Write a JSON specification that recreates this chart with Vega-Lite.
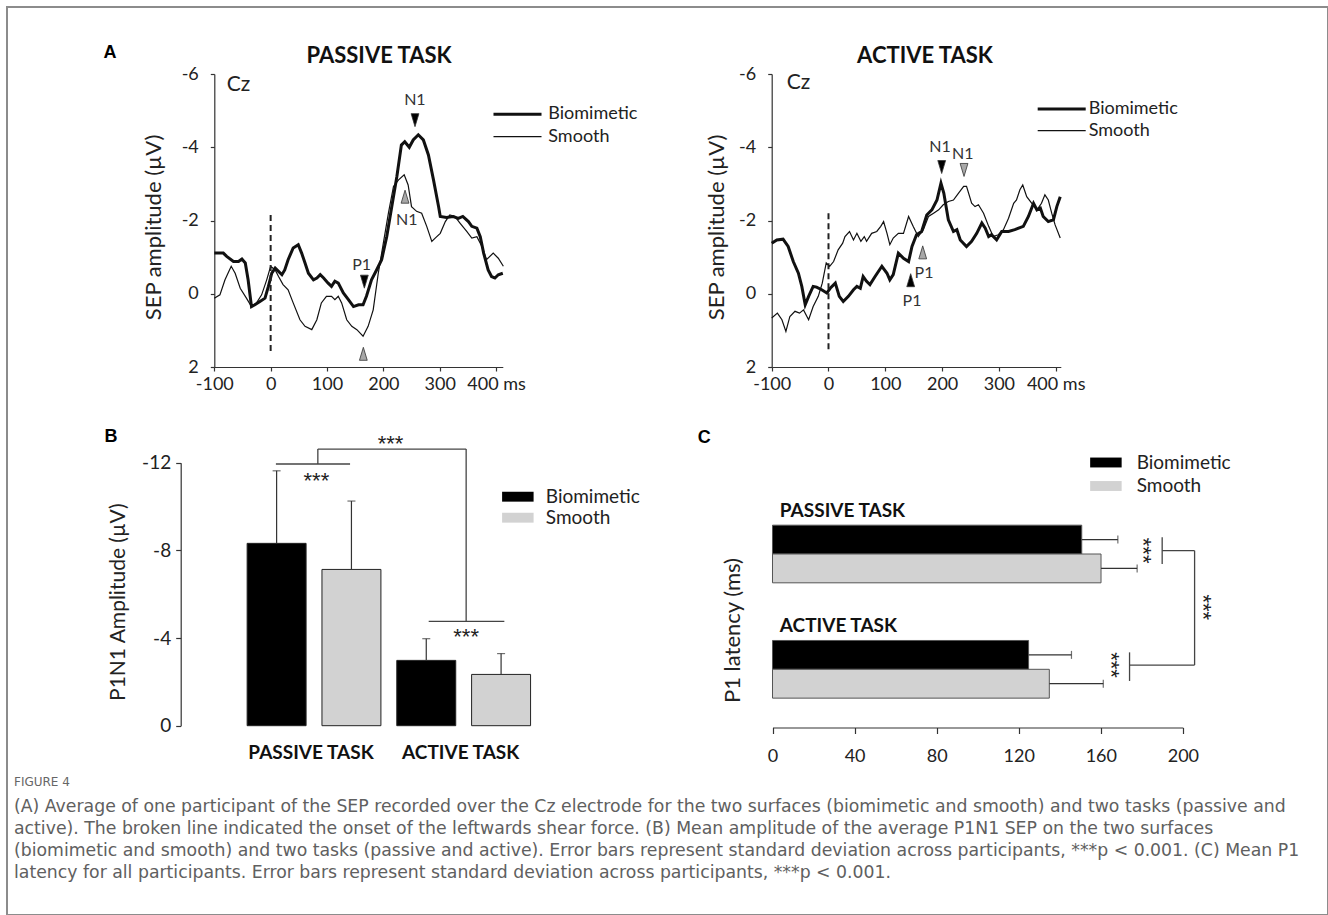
{
  "$schema": "https://vega.github.io/schema/vega-lite/v6.json",
  "width": 1321,
  "height": 908,
  "padding": {"left": 7, "top": 7, "right": 0, "bottom": 0},
  "autosize": {"type": "none"},
  "config": {
    "font": "Lato",
    "view": {"stroke": "#8c8c8c", "strokeWidth": 2},
    "axis": {"labelFontSize": 18, "labelColor": "#222", "domainColor": "#333", "tickColor": "#333", "domainWidth": 1.2, "tickWidth": 1.2, "grid": false, "titleFontWeight": "normal", "titleColor": "#222", "labelFont": "Lato", "titleFont": "Lato"},
    "legend": {"labelFont": "Lato", "labelColor": "#222", "padding": 0}
  },
  "title": {
    "text": "FIGURE 4",
    "subtitle": [
      "(A) Average of one participant of the SEP recorded over the Cz electrode for the two surfaces (biomimetic and smooth) and two tasks (passive and",
      "active). The broken line indicated the onset of the leftwards shear force. (B) Mean amplitude of the average P1N1 SEP on the two surfaces",
      "(biomimetic and smooth) and two tasks (passive and active). Error bars represent standard deviation across participants, ***p < 0.001. (C) Mean P1",
      "latency for all participants. Error bars represent standard deviation across participants, ***p < 0.001."
    ],
    "orient": "bottom",
    "anchor": "start",
    "frame": "group",
    "offset": -138,
    "dx": 7,
    "font": "DejaVu Sans",
    "fontSize": 12,
    "fontWeight": "normal",
    "color": "#666",
    "subtitleFont": "DejaVu Sans",
    "subtitleFontSize": 17.3,
    "subtitleColor": "#606060",
    "subtitleLineHeight": 22,
    "subtitlePadding": 9
  },
  "resolve": {
    "scale": {"x": "independent", "y": "independent", "color": "independent", "strokeWidth": "independent", "shape": "independent", "xOffset": "independent", "yOffset": "independent"},
    "axis": {"x": "independent", "y": "independent"},
    "legend": {"color": "independent", "strokeWidth": "independent", "shape": "independent"}
  },
  "datasets": {
    "erp": [
      {"task":"passive","surface":"Biomimetic","t":-100,"amp":-1.11},{"task":"passive","surface":"Biomimetic","t":-84,"amp":-1.11},{"task":"passive","surface":"Biomimetic","t":-78,"amp":-1.02},{"task":"passive","surface":"Biomimetic","t":-66,"amp":-0.88},{"task":"passive","surface":"Biomimetic","t":-57,"amp":-0.88},{"task":"passive","surface":"Biomimetic","t":-51,"amp":-0.95},{"task":"passive","surface":"Biomimetic","t":-45,"amp":-0.84},{"task":"passive","surface":"Biomimetic","t":-40,"amp":-0.38},{"task":"passive","surface":"Biomimetic","t":-34,"amp":0.35},{"task":"passive","surface":"Biomimetic","t":-28,"amp":0.3},{"task":"passive","surface":"Biomimetic","t":-19,"amp":0.21},{"task":"passive","surface":"Biomimetic","t":-10,"amp":0.12},{"task":"passive","surface":"Biomimetic","t":-4,"amp":-0.2},{"task":"passive","surface":"Biomimetic","t":2,"amp":-0.56},{"task":"passive","surface":"Biomimetic","t":8,"amp":-0.7},{"task":"passive","surface":"Biomimetic","t":14,"amp":-0.61},{"task":"passive","surface":"Biomimetic","t":20,"amp":-0.52},{"task":"passive","surface":"Biomimetic","t":25,"amp":-0.65},{"task":"passive","surface":"Biomimetic","t":31,"amp":-0.93},{"task":"passive","surface":"Biomimetic","t":40,"amp":-1.25},{"task":"passive","surface":"Biomimetic","t":49,"amp":-1.34},{"task":"passive","surface":"Biomimetic","t":55,"amp":-1.11},{"task":"passive","surface":"Biomimetic","t":61,"amp":-0.84},{"task":"passive","surface":"Biomimetic","t":67,"amp":-0.56},{"task":"passive","surface":"Biomimetic","t":76,"amp":-0.38},{"task":"passive","surface":"Biomimetic","t":82,"amp":-0.43},{"task":"passive","surface":"Biomimetic","t":88,"amp":-0.52},{"task":"passive","surface":"Biomimetic","t":94,"amp":-0.43},{"task":"passive","surface":"Biomimetic","t":102,"amp":-0.29},{"task":"passive","surface":"Biomimetic","t":108,"amp":-0.2},{"task":"passive","surface":"Biomimetic","t":114,"amp":-0.34},{"task":"passive","surface":"Biomimetic","t":120,"amp":-0.29},{"task":"passive","surface":"Biomimetic","t":129,"amp":-0.02},{"task":"passive","surface":"Biomimetic","t":138,"amp":0.16},{"task":"passive","surface":"Biomimetic","t":147,"amp":0.35},{"task":"passive","surface":"Biomimetic","t":156,"amp":0.3},{"task":"passive","surface":"Biomimetic","t":164,"amp":0.3},{"task":"passive","surface":"Biomimetic","t":170,"amp":0.07},{"task":"passive","surface":"Biomimetic","t":179,"amp":-0.38},{"task":"passive","surface":"Biomimetic","t":188,"amp":-0.65},{"task":"passive","surface":"Biomimetic","t":197,"amp":-0.93},{"task":"passive","surface":"Biomimetic","t":206,"amp":-1.56},{"task":"passive","surface":"Biomimetic","t":215,"amp":-2.38},{"task":"passive","surface":"Biomimetic","t":224,"amp":-3.2},{"task":"passive","surface":"Biomimetic","t":232,"amp":-4.06},{"task":"passive","surface":"Biomimetic","t":238,"amp":-4.15},{"task":"passive","surface":"Biomimetic","t":246,"amp":-4.0},{"task":"passive","surface":"Biomimetic","t":253,"amp":-4.2},{"task":"passive","surface":"Biomimetic","t":262,"amp":-4.34},{"task":"passive","surface":"Biomimetic","t":271,"amp":-4.2},{"task":"passive","surface":"Biomimetic","t":280,"amp":-3.79},{"task":"passive","surface":"Biomimetic","t":289,"amp":-3.11},{"task":"passive","surface":"Biomimetic","t":298,"amp":-2.38},{"task":"passive","surface":"Biomimetic","t":301,"amp":-2.11},{"task":"passive","surface":"Biomimetic","t":312,"amp":-2.08},{"task":"passive","surface":"Biomimetic","t":324,"amp":-2.11},{"task":"passive","surface":"Biomimetic","t":333,"amp":-2.06},{"task":"passive","surface":"Biomimetic","t":341,"amp":-2.11},{"task":"passive","surface":"Biomimetic","t":351,"amp":-1.97},{"task":"passive","surface":"Biomimetic","t":357,"amp":-1.84},{"task":"passive","surface":"Biomimetic","t":366,"amp":-1.79},{"task":"passive","surface":"Biomimetic","t":372,"amp":-1.56},{"task":"passive","surface":"Biomimetic","t":378,"amp":-1.11},{"task":"passive","surface":"Biomimetic","t":386,"amp":-0.65},{"task":"passive","surface":"Biomimetic","t":392,"amp":-0.47},{"task":"passive","surface":"Biomimetic","t":398,"amp":-0.43},{"task":"passive","surface":"Biomimetic","t":404,"amp":-0.52},{"task":"passive","surface":"Biomimetic","t":412,"amp":-0.56},
      {"task":"passive","surface":"Smooth","t":-100,"amp":0.12},{"task":"passive","surface":"Smooth","t":-90,"amp":0.03},{"task":"passive","surface":"Smooth","t":-81,"amp":-0.38},{"task":"passive","surface":"Smooth","t":-70,"amp":-0.75},{"task":"passive","surface":"Smooth","t":-63,"amp":-0.56},{"task":"passive","surface":"Smooth","t":-54,"amp":-0.15},{"task":"passive","surface":"Smooth","t":-43,"amp":0.12},{"task":"passive","surface":"Smooth","t":-34,"amp":0.35},{"task":"passive","surface":"Smooth","t":-25,"amp":0.25},{"task":"passive","surface":"Smooth","t":-16,"amp":0.03},{"task":"passive","surface":"Smooth","t":-7,"amp":-0.38},{"task":"passive","surface":"Smooth","t":0,"amp":-0.75},{"task":"passive","surface":"Smooth","t":8,"amp":-0.65},{"task":"passive","surface":"Smooth","t":14,"amp":-0.47},{"task":"passive","surface":"Smooth","t":22,"amp":-0.25},{"task":"passive","surface":"Smooth","t":31,"amp":-0.11},{"task":"passive","surface":"Smooth","t":40,"amp":0.25},{"task":"passive","surface":"Smooth","t":52,"amp":0.71},{"task":"passive","surface":"Smooth","t":61,"amp":0.89},{"task":"passive","surface":"Smooth","t":73,"amp":0.98},{"task":"passive","surface":"Smooth","t":82,"amp":0.71},{"task":"passive","surface":"Smooth","t":90,"amp":0.25},{"task":"passive","surface":"Smooth","t":99,"amp":0.07},{"task":"passive","surface":"Smooth","t":108,"amp":0.07},{"task":"passive","surface":"Smooth","t":114,"amp":0.16},{"task":"passive","surface":"Smooth","t":120,"amp":0.07},{"task":"passive","surface":"Smooth","t":126,"amp":0.25},{"task":"passive","surface":"Smooth","t":135,"amp":0.71},{"task":"passive","surface":"Smooth","t":144,"amp":0.89},{"task":"passive","surface":"Smooth","t":153,"amp":0.98},{"task":"passive","surface":"Smooth","t":164,"amp":1.16},{"task":"passive","surface":"Smooth","t":173,"amp":0.89},{"task":"passive","surface":"Smooth","t":182,"amp":0.44},{"task":"passive","surface":"Smooth","t":191,"amp":-0.56},{"task":"passive","surface":"Smooth","t":200,"amp":-1.38},{"task":"passive","surface":"Smooth","t":209,"amp":-2.2},{"task":"passive","surface":"Smooth","t":218,"amp":-2.93},{"task":"passive","surface":"Smooth","t":227,"amp":-3.11},{"task":"passive","surface":"Smooth","t":237,"amp":-3.25},{"task":"passive","surface":"Smooth","t":244,"amp":-2.97},{"task":"passive","surface":"Smooth","t":250,"amp":-2.38},{"task":"passive","surface":"Smooth","t":259,"amp":-2.25},{"task":"passive","surface":"Smooth","t":268,"amp":-2.2},{"task":"passive","surface":"Smooth","t":277,"amp":-1.84},{"task":"passive","surface":"Smooth","t":286,"amp":-1.43},{"task":"passive","surface":"Smooth","t":292,"amp":-1.52},{"task":"passive","surface":"Smooth","t":301,"amp":-1.65},{"task":"passive","surface":"Smooth","t":310,"amp":-1.97},{"task":"passive","surface":"Smooth","t":318,"amp":-2.15},{"task":"passive","surface":"Smooth","t":327,"amp":-2.11},{"task":"passive","surface":"Smooth","t":336,"amp":-1.93},{"task":"passive","surface":"Smooth","t":348,"amp":-1.7},{"task":"passive","surface":"Smooth","t":357,"amp":-1.52},{"task":"passive","surface":"Smooth","t":366,"amp":-1.56},{"task":"passive","surface":"Smooth","t":375,"amp":-1.29},{"task":"passive","surface":"Smooth","t":383,"amp":-0.93},{"task":"passive","surface":"Smooth","t":395,"amp":-1.11},{"task":"passive","surface":"Smooth","t":404,"amp":-0.97},{"task":"passive","surface":"Smooth","t":413,"amp":-0.75},
      {"task":"active","surface":"Biomimetic","t":-100,"amp":-1.38},{"task":"active","surface":"Biomimetic","t":-91,"amp":-1.47},{"task":"active","surface":"Biomimetic","t":-80,"amp":-1.49},{"task":"active","surface":"Biomimetic","t":-71,"amp":-1.29},{"task":"active","surface":"Biomimetic","t":-62,"amp":-0.88},{"task":"active","surface":"Biomimetic","t":-53,"amp":-0.56},{"task":"active","surface":"Biomimetic","t":-47,"amp":-0.2},{"task":"active","surface":"Biomimetic","t":-41,"amp":0.3},{"task":"active","surface":"Biomimetic","t":-35,"amp":0.07},{"task":"active","surface":"Biomimetic","t":-27,"amp":-0.2},{"task":"active","surface":"Biomimetic","t":-21,"amp":-0.18},{"task":"active","surface":"Biomimetic","t":-12,"amp":-0.11},{"task":"active","surface":"Biomimetic","t":-3,"amp":-0.02},{"task":"active","surface":"Biomimetic","t":3,"amp":-0.15},{"task":"active","surface":"Biomimetic","t":12,"amp":-0.29},{"task":"active","surface":"Biomimetic","t":19,"amp":0.07},{"task":"active","surface":"Biomimetic","t":26,"amp":0.21},{"task":"active","surface":"Biomimetic","t":35,"amp":0.07},{"task":"active","surface":"Biomimetic","t":44,"amp":-0.11},{"task":"active","surface":"Biomimetic","t":50,"amp":-0.2},{"task":"active","surface":"Biomimetic","t":56,"amp":-0.15},{"task":"active","surface":"Biomimetic","t":61,"amp":-0.47},{"task":"active","surface":"Biomimetic","t":67,"amp":-0.34},{"task":"active","surface":"Biomimetic","t":73,"amp":-0.25},{"task":"active","surface":"Biomimetic","t":82,"amp":-0.47},{"task":"active","surface":"Biomimetic","t":94,"amp":-0.75},{"task":"active","surface":"Biomimetic","t":103,"amp":-0.56},{"task":"active","surface":"Biomimetic","t":108,"amp":-0.38},{"task":"active","surface":"Biomimetic","t":114,"amp":-0.52},{"task":"active","surface":"Biomimetic","t":123,"amp":-1.11},{"task":"active","surface":"Biomimetic","t":132,"amp":-0.97},{"task":"active","surface":"Biomimetic","t":141,"amp":-0.88},{"task":"active","surface":"Biomimetic","t":147,"amp":-1.29},{"task":"active","surface":"Biomimetic","t":155,"amp":-1.61},{"task":"active","surface":"Biomimetic","t":164,"amp":-1.7},{"task":"active","surface":"Biomimetic","t":173,"amp":-2.15},{"task":"active","surface":"Biomimetic","t":182,"amp":-2.29},{"task":"active","surface":"Biomimetic","t":191,"amp":-2.56},{"task":"active","surface":"Biomimetic","t":198,"amp":-3.02},{"task":"active","surface":"Biomimetic","t":203,"amp":-2.75},{"task":"active","surface":"Biomimetic","t":211,"amp":-2.02},{"task":"active","surface":"Biomimetic","t":220,"amp":-1.7},{"task":"active","surface":"Biomimetic","t":226,"amp":-1.75},{"task":"active","surface":"Biomimetic","t":232,"amp":-1.47},{"task":"active","surface":"Biomimetic","t":243,"amp":-1.29},{"task":"active","surface":"Biomimetic","t":252,"amp":-1.43},{"task":"active","surface":"Biomimetic","t":261,"amp":-1.65},{"task":"active","surface":"Biomimetic","t":270,"amp":-1.93},{"task":"active","surface":"Biomimetic","t":276,"amp":-1.79},{"task":"active","surface":"Biomimetic","t":282,"amp":-1.56},{"task":"active","surface":"Biomimetic","t":287,"amp":-1.61},{"task":"active","surface":"Biomimetic","t":296,"amp":-1.47},{"task":"active","surface":"Biomimetic","t":305,"amp":-1.7},{"task":"active","surface":"Biomimetic","t":317,"amp":-1.7},{"task":"active","surface":"Biomimetic","t":328,"amp":-1.75},{"task":"active","surface":"Biomimetic","t":343,"amp":-1.84},{"task":"active","surface":"Biomimetic","t":352,"amp":-2.11},{"task":"active","surface":"Biomimetic","t":361,"amp":-2.47},{"task":"active","surface":"Biomimetic","t":367,"amp":-2.29},{"task":"active","surface":"Biomimetic","t":373,"amp":-2.34},{"task":"active","surface":"Biomimetic","t":378,"amp":-2.11},{"task":"active","surface":"Biomimetic","t":387,"amp":-1.97},{"task":"active","surface":"Biomimetic","t":396,"amp":-2.02},{"task":"active","surface":"Biomimetic","t":402,"amp":-2.38},{"task":"active","surface":"Biomimetic","t":408,"amp":-2.65},
      {"task":"active","surface":"Smooth","t":-100,"amp":0.66},{"task":"active","surface":"Smooth","t":-90,"amp":0.53},{"task":"active","surface":"Smooth","t":-82,"amp":0.71},{"task":"active","surface":"Smooth","t":-75,"amp":1.03},{"task":"active","surface":"Smooth","t":-68,"amp":0.62},{"task":"active","surface":"Smooth","t":-59,"amp":0.48},{"task":"active","surface":"Smooth","t":-51,"amp":0.53},{"task":"active","surface":"Smooth","t":-44,"amp":0.44},{"task":"active","surface":"Smooth","t":-35,"amp":0.71},{"task":"active","surface":"Smooth","t":-27,"amp":0.35},{"task":"active","surface":"Smooth","t":-18,"amp":0.07},{"task":"active","surface":"Smooth","t":-11,"amp":-0.29},{"task":"active","surface":"Smooth","t":-4,"amp":-0.84},{"task":"active","surface":"Smooth","t":2,"amp":-0.75},{"task":"active","surface":"Smooth","t":9,"amp":-0.88},{"task":"active","surface":"Smooth","t":17,"amp":-1.2},{"task":"active","surface":"Smooth","t":25,"amp":-1.38},{"task":"active","surface":"Smooth","t":29,"amp":-1.56},{"task":"active","surface":"Smooth","t":37,"amp":-1.7},{"task":"active","surface":"Smooth","t":44,"amp":-1.47},{"task":"active","surface":"Smooth","t":50,"amp":-1.65},{"task":"active","surface":"Smooth","t":57,"amp":-1.43},{"task":"active","surface":"Smooth","t":63,"amp":-1.56},{"task":"active","surface":"Smooth","t":67,"amp":-1.43},{"task":"active","surface":"Smooth","t":76,"amp":-1.65},{"task":"active","surface":"Smooth","t":85,"amp":-1.7},{"task":"active","surface":"Smooth","t":92,"amp":-1.84},{"task":"active","surface":"Smooth","t":97,"amp":-1.97},{"task":"active","surface":"Smooth","t":103,"amp":-1.65},{"task":"active","surface":"Smooth","t":108,"amp":-1.34},{"task":"active","surface":"Smooth","t":114,"amp":-1.52},{"task":"active","surface":"Smooth","t":123,"amp":-1.65},{"task":"active","surface":"Smooth","t":132,"amp":-1.65},{"task":"active","surface":"Smooth","t":141,"amp":-2.11},{"task":"active","surface":"Smooth","t":149,"amp":-1.84},{"task":"active","surface":"Smooth","t":158,"amp":-1.56},{"task":"active","surface":"Smooth","t":167,"amp":-1.75},{"task":"active","surface":"Smooth","t":176,"amp":-2.11},{"task":"active","surface":"Smooth","t":185,"amp":-2.2},{"task":"active","surface":"Smooth","t":194,"amp":-2.29},{"task":"active","surface":"Smooth","t":202,"amp":-2.43},{"task":"active","surface":"Smooth","t":211,"amp":-2.52},{"task":"active","surface":"Smooth","t":220,"amp":-2.56},{"task":"active","surface":"Smooth","t":229,"amp":-2.75},{"task":"active","surface":"Smooth","t":238,"amp":-2.93},{"task":"active","surface":"Smooth","t":243,"amp":-2.93},{"task":"active","surface":"Smooth","t":252,"amp":-2.47},{"task":"active","surface":"Smooth","t":258,"amp":-2.38},{"task":"active","surface":"Smooth","t":264,"amp":-2.43},{"task":"active","surface":"Smooth","t":273,"amp":-2.2},{"task":"active","surface":"Smooth","t":282,"amp":-1.84},{"task":"active","surface":"Smooth","t":290,"amp":-1.56},{"task":"active","surface":"Smooth","t":299,"amp":-1.61},{"task":"active","surface":"Smooth","t":308,"amp":-1.75},{"task":"active","surface":"Smooth","t":317,"amp":-2.06},{"task":"active","surface":"Smooth","t":326,"amp":-2.47},{"task":"active","surface":"Smooth","t":331,"amp":-2.56},{"task":"active","surface":"Smooth","t":337,"amp":-2.84},{"task":"active","surface":"Smooth","t":342,"amp":-2.97},{"task":"active","surface":"Smooth","t":349,"amp":-2.65},{"task":"active","surface":"Smooth","t":358,"amp":-2.47},{"task":"active","surface":"Smooth","t":367,"amp":-2.29},{"task":"active","surface":"Smooth","t":375,"amp":-2.47},{"task":"active","surface":"Smooth","t":381,"amp":-2.7},{"task":"active","surface":"Smooth","t":387,"amp":-2.56},{"task":"active","surface":"Smooth","t":393,"amp":-2.2},{"task":"active","surface":"Smooth","t":399,"amp":-1.88},{"task":"active","surface":"Smooth","t":408,"amp":-1.52}
    ],
    "peaks": [
      {"task":"passive","surface":"Biomimetic","dir":"down","t":256.2,"amp":-4.74},
      {"task":"passive","surface":"Smooth","dir":"up","t":238.5,"amp":-2.65},
      {"task":"passive","surface":"Biomimetic","dir":"down","t":166.3,"amp":-0.33},
      {"task":"passive","surface":"Smooth","dir":"up","t":164.5,"amp":1.64},
      {"task":"active","surface":"Biomimetic","dir":"down","t":199.3,"amp":-3.46},
      {"task":"active","surface":"Smooth","dir":"down","t":238.6,"amp":-3.38},
      {"task":"active","surface":"Smooth","dir":"up","t":165.9,"amp":-1.13},
      {"task":"active","surface":"Biomimetic","dir":"up","t":144.7,"amp":-0.37}
    ],
    "peakLabels": [
      {"task":"passive","t":256,"amp":-5.29,"label":"N1"},
      {"task":"passive","t":241.4,"amp":-2.01,"label":"N1"},
      {"task":"passive","t":161.5,"amp":-0.79,"label":"P1"},
      {"task":"active","t":196.4,"amp":-4.0,"label":"N1"},
      {"task":"active","t":236.3,"amp":-3.82,"label":"N1"},
      {"task":"active","t":168.2,"amp":-0.56,"label":"P1"},
      {"task":"active","t":147,"amp":0.21,"label":"P1"}
    ],
    "amp": [
      {"task":"PASSIVE TASK","surface":"Biomimetic","mean":-8.32,"end":-11.63},
      {"task":"PASSIVE TASK","surface":"Smooth","mean":-7.13,"end":-10.25},
      {"task":"ACTIVE TASK","surface":"Biomimetic","mean":-2.98,"end":-3.97},
      {"task":"ACTIVE TASK","surface":"Smooth","mean":-2.34,"end":-3.29}
    ],
    "lat": [
      {"task":"PASSIVE TASK","surface":"Biomimetic","mean":150.7,"end":168.3},
      {"task":"PASSIVE TASK","surface":"Smooth","mean":160.1,"end":177.7},
      {"task":"ACTIVE TASK","surface":"Biomimetic","mean":124.8,"end":145.7},
      {"task":"ACTIVE TASK","surface":"Smooth","mean":134.9,"end":161.2}
    ]
  },
  "layer": [
    {
      "data": {"name": "erp"},
      "transform": [{"filter": "datum.task == 'passive'"}],
      "mark": {"type": "line", "color": "#111"},
      "encoding": {
        "x": {"field": "t", "type": "quantitative", "scale": {"type": "linear", "domain": [-100, 412], "range": [207.3, 495.8], "nice": false, "zero": false},
          "axis": {"orient": "bottom", "offset": -548, "values": [-100, 0, 100, 200, 300, 400], "labelExpr": "datum.value == 400 ? '\u00a0\u00a0\u00a0\u00a0\u00a0\u00a0400 ms' : toString(datum.value)", "title": null, "tickSize": 4, "labelPadding": 4, "labelFlush": false}},
        "y": {"field": "amp", "type": "quantitative", "scale": {"type": "linear", "domain": [2, -6], "range": [360, 67], "nice": false, "zero": false},
          "axis": {"orient": "left", "offset": -207.3, "values": [2, 0, -2, -4, -6], "labelExpr": "toString(datum.value)", "tickSize": 4, "labelPadding": 12, "title": "SEP amplitude (µV)", "titleFontSize": 22, "titleX": -61, "titleY": 220, "titleAngle": -90, "titleBaseline": "middle", "titleAlign": "center"}},
        "strokeWidth": {"field": "surface", "type": "ordinal", "scale": {"domain": ["Biomimetic", "Smooth"], "range": [3, 1.2]},
          "legend": {"orient": "none", "direction": "vertical", "legendX": 501.5, "legendY": 98.3, "title": null, "symbolType": "M-3.43,0H3.43", "symbolSize": 196, "symbolStrokeColor": "#111", "symbolFillColor": "transparent", "labelFontSize": 18, "labelOffset": 21.8, "rowPadding": 4.4}}
      }
    },
    {
      "data": {"values": [{"t": 0, "a1": -2.15, "a2": 1.62}]},
      "mark": {"type": "rule", "strokeDash": [6, 4], "strokeWidth": 2, "color": "#222"},
      "encoding": {
        "x": {"field": "t", "type": "quantitative", "scale": {"type": "linear", "domain": [-100, 412], "range": [207.3, 495.8], "nice": false, "zero": false}, "axis": null},
        "y": {"field": "a1", "type": "quantitative", "scale": {"type": "linear", "domain": [2, -6], "range": [360, 67], "nice": false, "zero": false}, "axis": null},
        "y2": {"field": "a2"}
      }
    },
    {
      "data": {"name": "peaks"},
      "transform": [{"filter": "datum.task == 'passive'"}],
      "mark": {"type": "point", "filled": true, "size": 169, "stroke": "#333", "strokeWidth": 0.8, "opacity": 1},
      "encoding": {
        "x": {"field": "t", "type": "quantitative", "scale": {"type": "linear", "domain": [-100, 412], "range": [207.3, 495.8], "nice": false, "zero": false}, "axis": null},
        "y": {"field": "amp", "type": "quantitative", "scale": {"type": "linear", "domain": [2, -6], "range": [360, 67], "nice": false, "zero": false}, "axis": null},
        "shape": {"field": "dir", "type": "nominal", "scale": {"domain": ["down", "up"], "range": ["M-0.6,-1L0.6,-1L0,1Z", "M-0.6,1L0.6,1L0,-1Z"]}, "legend": null},
        "color": {"field": "surface", "type": "nominal", "scale": {"domain": ["Biomimetic", "Smooth"], "range": ["#000000", "#a8a8a8"]}, "legend": null}
      }
    },
    {
      "data": {"name": "peakLabels"},
      "transform": [{"filter": "datum.task == 'passive'"}],
      "mark": {"type": "text", "fontSize": 16, "color": "#333", "baseline": "middle", "align": "center"},
      "encoding": {
        "x": {"field": "t", "type": "quantitative", "scale": {"type": "linear", "domain": [-100, 412], "range": [207.3, 495.8], "nice": false, "zero": false}, "axis": null},
        "y": {"field": "amp", "type": "quantitative", "scale": {"type": "linear", "domain": [2, -6], "range": [360, 67], "nice": false, "zero": false}, "axis": null},
        "text": {"field": "label"}
      }
    },
    {
      "data": {"values": [{"t": -78, "amp": -5.7, "label": "Cz"}]},
      "mark": {"type": "text", "fontSize": 21, "color": "#222", "baseline": "middle", "align": "left"},
      "encoding": {
        "x": {"field": "t", "type": "quantitative", "scale": {"type": "linear", "domain": [-100, 412], "range": [207.3, 495.8], "nice": false, "zero": false}, "axis": null},
        "y": {"field": "amp", "type": "quantitative", "scale": {"type": "linear", "domain": [2, -6], "range": [360, 67], "nice": false, "zero": false}, "axis": null},
        "text": {"field": "label"}
      }
    },
    {
      "data": {"values": [{"t": 192.3, "amp": -6.49, "label": "PASSIVE TASK"}]},
      "mark": {"type": "text", "fontSize": 22, "fontWeight": "bold", "color": "#111", "baseline": "middle", "align": "center"},
      "encoding": {
        "x": {"field": "t", "type": "quantitative", "scale": {"type": "linear", "domain": [-100, 412], "range": [207.3, 495.8], "nice": false, "zero": false}, "axis": null},
        "y": {"field": "amp", "type": "quantitative", "scale": {"type": "linear", "domain": [2, -6], "range": [360, 67], "nice": false, "zero": false}, "axis": null},
        "text": {"field": "label"}
      }
    },
    {
      "data": {"values": [{"t": -285, "amp": -6.57, "label": "A"}]},
      "mark": {"type": "text", "font": "Liberation Sans", "fontSize": 18, "fontWeight": "bold", "color": "#000", "baseline": "middle", "align": "center"},
      "encoding": {
        "x": {"field": "t", "type": "quantitative", "scale": {"type": "linear", "domain": [-100, 412], "range": [207.3, 495.8], "nice": false, "zero": false}, "axis": null},
        "y": {"field": "amp", "type": "quantitative", "scale": {"type": "linear", "domain": [2, -6], "range": [360, 67], "nice": false, "zero": false}, "axis": null},
        "text": {"field": "label"}
      }
    },
    {
      "data": {"name": "erp"},
      "transform": [{"filter": "datum.task == 'active'"}],
      "mark": {"type": "line", "color": "#111"},
      "encoding": {
        "x": {"field": "t", "type": "quantitative", "scale": {"type": "linear", "domain": [-100, 409], "range": [764.7, 1053.8], "nice": false, "zero": false},
          "axis": {"orient": "bottom", "offset": -548, "values": [-100, 0, 100, 200, 300, 400], "labelExpr": "datum.value == 400 ? '\u00a0\u00a0\u00a0\u00a0\u00a0\u00a0400 ms' : toString(datum.value)", "title": null, "tickSize": 4, "labelPadding": 4, "labelFlush": false}},
        "y": {"field": "amp", "type": "quantitative", "scale": {"type": "linear", "domain": [2, -6], "range": [360, 67], "nice": false, "zero": false},
          "axis": {"orient": "left", "offset": -764.7, "values": [2, 0, -2, -4, -6], "labelExpr": "toString(datum.value)", "tickSize": 4, "labelPadding": 12, "title": "SEP amplitude (µV)", "titleFontSize": 22, "titleX": -55, "titleY": 220, "titleAngle": -90, "titleBaseline": "middle", "titleAlign": "center"}},
        "strokeWidth": {"field": "surface", "type": "ordinal", "scale": {"domain": ["Biomimetic", "Smooth"], "range": [3, 1.2]},
          "legend": {"orient": "none", "direction": "vertical", "legendX": 1045.7, "legendY": 93, "title": null, "symbolType": "M-3.43,0H3.43", "symbolSize": 196, "symbolStrokeColor": "#111", "symbolFillColor": "transparent", "labelFontSize": 18, "labelOffset": 18, "rowPadding": 3.7}}
      }
    },
    {
      "data": {"values": [{"t": 0, "a1": -2.2, "a2": 1.53}]},
      "mark": {"type": "rule", "strokeDash": [6, 4], "strokeWidth": 2, "color": "#222"},
      "encoding": {
        "x": {"field": "t", "type": "quantitative", "scale": {"type": "linear", "domain": [-100, 409], "range": [764.7, 1053.8], "nice": false, "zero": false}, "axis": null},
        "y": {"field": "a1", "type": "quantitative", "scale": {"type": "linear", "domain": [2, -6], "range": [360, 67], "nice": false, "zero": false}, "axis": null},
        "y2": {"field": "a2"}
      }
    },
    {
      "data": {"name": "peaks"},
      "transform": [{"filter": "datum.task == 'active'"}],
      "mark": {"type": "point", "filled": true, "size": 169, "stroke": "#333", "strokeWidth": 0.8, "opacity": 1},
      "encoding": {
        "x": {"field": "t", "type": "quantitative", "scale": {"type": "linear", "domain": [-100, 409], "range": [764.7, 1053.8], "nice": false, "zero": false}, "axis": null},
        "y": {"field": "amp", "type": "quantitative", "scale": {"type": "linear", "domain": [2, -6], "range": [360, 67], "nice": false, "zero": false}, "axis": null},
        "shape": {"field": "dir", "type": "nominal", "scale": {"domain": ["down", "up"], "range": ["M-0.6,-1L0.6,-1L0,1Z", "M-0.6,1L0.6,1L0,-1Z"]}, "legend": null},
        "color": {"field": "surface", "type": "nominal", "scale": {"domain": ["Biomimetic", "Smooth"], "range": ["#000000", "#a8a8a8"]}, "legend": null}
      }
    },
    {
      "data": {"name": "peakLabels"},
      "transform": [{"filter": "datum.task == 'active'"}],
      "mark": {"type": "text", "fontSize": 16, "color": "#333", "baseline": "middle", "align": "center"},
      "encoding": {
        "x": {"field": "t", "type": "quantitative", "scale": {"type": "linear", "domain": [-100, 409], "range": [764.7, 1053.8], "nice": false, "zero": false}, "axis": null},
        "y": {"field": "amp", "type": "quantitative", "scale": {"type": "linear", "domain": [2, -6], "range": [360, 67], "nice": false, "zero": false}, "axis": null},
        "text": {"field": "label"}
      }
    },
    {
      "data": {"values": [{"t": -73.6, "amp": -5.75, "label": "Cz"}]},
      "mark": {"type": "text", "fontSize": 21, "color": "#222", "baseline": "middle", "align": "left"},
      "encoding": {
        "x": {"field": "t", "type": "quantitative", "scale": {"type": "linear", "domain": [-100, 409], "range": [764.7, 1053.8], "nice": false, "zero": false}, "axis": null},
        "y": {"field": "amp", "type": "quantitative", "scale": {"type": "linear", "domain": [2, -6], "range": [360, 67], "nice": false, "zero": false}, "axis": null},
        "text": {"field": "label"}
      }
    },
    {
      "data": {"values": [{"t": 169.9, "amp": -6.49, "label": "ACTIVE TASK"}]},
      "mark": {"type": "text", "fontSize": 22, "fontWeight": "bold", "color": "#111", "baseline": "middle", "align": "center"},
      "encoding": {
        "x": {"field": "t", "type": "quantitative", "scale": {"type": "linear", "domain": [-100, 409], "range": [764.7, 1053.8], "nice": false, "zero": false}, "axis": null},
        "y": {"field": "amp", "type": "quantitative", "scale": {"type": "linear", "domain": [2, -6], "range": [360, 67], "nice": false, "zero": false}, "axis": null},
        "text": {"field": "label"}
      }
    },
    {
      "data": {"name": "amp"},
      "mark": {"type": "bar", "stroke": "#222", "strokeWidth": 1},
      "encoding": {
        "x": {"field": "task", "type": "nominal", "sort": null, "scale": {"type": "band", "domain": ["PASSIVE TASK", "ACTIVE TASK"], "range": [232.2, 531.5], "paddingInner": 0, "paddingOuter": 0},
          "axis": {"orient": "bottom", "offset": -189.3, "domain": false, "ticks": false, "tickSize": 0, "labelPadding": 17.8, "labelFontSize": 19, "labelFontWeight": "bold", "labelColor": "#111", "labelAngle": 0, "labelOffset": -3, "title": null}},
        "xOffset": {"field": "surface", "type": "nominal", "scale": {"type": "band", "domain": ["Biomimetic", "Smooth"], "paddingInner": 0.212, "paddingOuter": 0.106}},
        "y": {"field": "mean", "type": "quantitative", "stack": null, "scale": {"type": "linear", "domain": [0, -12], "range": [718.7, 455.7], "nice": false, "zero": false},
          "axis": {"orient": "left", "offset": -173.7, "values": [0, -4, -8, -12], "labelExpr": "toString(datum.value)", "tickSize": 5, "labelPadding": 5, "labelFontSize": 19, "title": "P1N1 Amplitude (µV)", "titleFontSize": 21, "titleX": -62, "titleY": 594.7, "titleAngle": -90, "titleBaseline": "middle", "titleAlign": "center"}},
        "color": {"field": "surface", "type": "nominal", "scale": {"domain": ["Biomimetic", "Smooth"], "range": ["#000000", "#d2d2d2"]},
          "legend": {"orient": "none", "direction": "vertical", "legendX": 501.35, "legendY": 480.2, "title": null, "symbolType": "M-3.5,-1.1H3.5V1.1H-3.5Z", "symbolSize": 81, "symbolStrokeWidth": 0, "labelFontSize": 19, "labelOffset": 18.45, "rowPadding": 1}}
      }
    },
    {
      "data": {"name": "amp"},
      "mark": {"type": "rule", "color": "#333", "strokeWidth": 1.2},
      "encoding": {
        "x": {"field": "task", "type": "nominal", "sort": null, "scale": {"type": "band", "domain": ["PASSIVE TASK", "ACTIVE TASK"], "range": [232.2, 531.5], "paddingInner": 0, "paddingOuter": 0}, "axis": null},
        "xOffset": {"field": "surface", "type": "nominal", "scale": {"type": "band", "domain": ["Biomimetic", "Smooth"], "paddingInner": 0.212, "paddingOuter": 0.106}},
        "y": {"field": "mean", "type": "quantitative", "scale": {"type": "linear", "domain": [0, -12], "range": [718.7, 455.7], "nice": false, "zero": false}, "axis": null},
        "y2": {"field": "end"}
      }
    },
    {
      "data": {"name": "amp"},
      "mark": {"type": "tick", "orient": "horizontal", "size": 8, "thickness": 1.2, "color": "#333"},
      "encoding": {
        "x": {"field": "task", "type": "nominal", "sort": null, "scale": {"type": "band", "domain": ["PASSIVE TASK", "ACTIVE TASK"], "range": [232.2, 531.5], "paddingInner": 0, "paddingOuter": 0}, "axis": null},
        "xOffset": {"field": "surface", "type": "nominal", "scale": {"type": "band", "domain": ["Biomimetic", "Smooth"], "paddingInner": 0.212, "paddingOuter": 0.106}},
        "y": {"field": "end", "type": "quantitative", "scale": {"type": "linear", "domain": [0, -12], "range": [718.7, 455.7], "nice": false, "zero": false}, "axis": null}
      }
    },
    {
      "data": {"values": [
        {"u1": 0.49, "u2": 1.48, "v1": -11.94, "v2": -11.94},
        {"u1": 1.05, "u2": 1.05, "v1": -11.94, "v2": -12.62},
        {"u1": 1.05, "u2": 3.03, "v1": -12.62, "v2": -12.62},
        {"u1": 3.03, "u2": 3.03, "v1": -12.62, "v2": -4.76},
        {"u1": 2.53, "u2": 3.54, "v1": -4.76, "v2": -4.76}
      ]},
      "mark": {"type": "rule", "color": "#444", "strokeWidth": 1.3},
      "encoding": {
        "x": {"field": "u1", "type": "quantitative", "scale": {"type": "linear", "domain": [0, 4], "range": [232.2, 531.8], "nice": false, "zero": false}, "axis": null},
        "x2": {"field": "u2"},
        "y": {"field": "v1", "type": "quantitative", "scale": {"type": "linear", "domain": [0, -12], "range": [718.7, 455.7], "nice": false, "zero": false}, "axis": null},
        "y2": {"field": "v2"}
      }
    },
    {
      "data": {"values": [
        {"u": 1.03, "v": -11.44, "label": "***"},
        {"u": 2.02, "v": -13.11, "label": "***"},
        {"u": 3.03, "v": -4.33, "label": "***"}
      ]},
      "mark": {"type": "text", "font": "Liberation Sans", "fontSize": 22, "color": "#222", "baseline": "middle", "align": "center", "dy": 6},
      "encoding": {
        "x": {"field": "u", "type": "quantitative", "scale": {"type": "linear", "domain": [0, 4], "range": [232.2, 531.8], "nice": false, "zero": false}, "axis": null},
        "y": {"field": "v", "type": "quantitative", "scale": {"type": "linear", "domain": [0, -12], "range": [718.7, 455.7], "nice": false, "zero": false}, "axis": null},
        "text": {"field": "label"}
      }
    },
    {
      "data": {"values": [{"u": -1.71, "v": -13.18, "label": "B"}]},
      "mark": {"type": "text", "font": "Liberation Sans", "fontSize": 18, "fontWeight": "bold", "color": "#000", "baseline": "middle", "align": "center"},
      "encoding": {
        "x": {"field": "u", "type": "quantitative", "scale": {"type": "linear", "domain": [0, 4], "range": [232.2, 531.8], "nice": false, "zero": false}, "axis": null},
        "y": {"field": "v", "type": "quantitative", "scale": {"type": "linear", "domain": [0, -12], "range": [718.7, 455.7], "nice": false, "zero": false}, "axis": null},
        "text": {"field": "label"}
      }
    },
    {
      "data": {"name": "lat"},
      "mark": {"type": "bar", "stroke": "#555", "strokeWidth": 1},
      "encoding": {
        "y": {"field": "task", "type": "nominal", "sort": null, "scale": {"type": "band", "domain": ["PASSIVE TASK", "ACTIVE TASK"], "range": [489.35, 719.95], "paddingInner": 0, "paddingOuter": 0},
          "axis": {"orient": "left", "offset": -765.5, "domain": false, "ticks": false, "tickSize": 0, "labelAlign": "left", "labelPadding": -6.8, "labelOffset": -43, "labelBaseline": "middle", "labelFontSize": 19, "labelFontWeight": "bold", "labelColor": "#111", "title": "P1 latency (ms)", "titleFontSize": 22, "titleX": -39.6, "titleY": 623, "titleAngle": -90, "titleBaseline": "middle", "titleAlign": "center"}},
        "yOffset": {"field": "surface", "type": "nominal", "scale": {"type": "band", "domain": ["Biomimetic", "Smooth"], "paddingInner": 0, "paddingOuter": 1.096}},
        "x": {"field": "mean", "type": "quantitative", "stack": null, "scale": {"type": "linear", "domain": [0, 200], "range": [765.5, 1175.9], "nice": false, "zero": false},
          "axis": {"orient": "bottom", "offset": -187.5, "values": [0, 40, 80, 120, 160, 200], "tickSize": 6, "labelPadding": 13.5, "labelFontSize": 18, "title": null, "labelFlush": false}},
        "color": {"field": "surface", "type": "nominal", "scale": {"domain": ["Biomimetic", "Smooth"], "range": ["#000000", "#d2d2d2"]},
          "legend": {"orient": "none", "direction": "vertical", "legendX": 1089.4, "legendY": 446, "title": null, "symbolType": "M-3.5,-1.1H3.5V1.1H-3.5Z", "symbolSize": 81, "symbolStrokeWidth": 0, "labelFontSize": 19, "labelOffset": 21.3, "rowPadding": 3.5}}
      }
    },
    {
      "data": {"name": "lat"},
      "mark": {"type": "rule", "color": "#333", "strokeWidth": 1.2},
      "encoding": {
        "y": {"field": "task", "type": "nominal", "sort": null, "scale": {"type": "band", "domain": ["PASSIVE TASK", "ACTIVE TASK"], "range": [489.35, 719.95], "paddingInner": 0, "paddingOuter": 0}, "axis": null},
        "yOffset": {"field": "surface", "type": "nominal", "scale": {"type": "band", "domain": ["Biomimetic", "Smooth"], "paddingInner": 0, "paddingOuter": 1.096}},
        "x": {"field": "mean", "type": "quantitative", "scale": {"type": "linear", "domain": [0, 200], "range": [765.5, 1175.9], "nice": false, "zero": false}, "axis": null},
        "x2": {"field": "end"}
      }
    },
    {
      "data": {"name": "lat"},
      "mark": {"type": "tick", "orient": "vertical", "size": 8, "thickness": 1.2, "color": "#333"},
      "encoding": {
        "y": {"field": "task", "type": "nominal", "sort": null, "scale": {"type": "band", "domain": ["PASSIVE TASK", "ACTIVE TASK"], "range": [489.35, 719.95], "paddingInner": 0, "paddingOuter": 0}, "axis": null},
        "yOffset": {"field": "surface", "type": "nominal", "scale": {"type": "band", "domain": ["Biomimetic", "Smooth"], "paddingInner": 0, "paddingOuter": 1.096}},
        "x": {"field": "end", "type": "quantitative", "scale": {"type": "linear", "domain": [0, 200], "range": [765.5, 1175.9], "nice": false, "zero": false}, "axis": null}
      }
    },
    {
      "data": {"values": [
        {"x1": 189.9, "x2": 189.9, "g1": 0.355, "g2": 0.587},
        {"x1": 189.9, "x2": 205.7, "g1": 0.471, "g2": 0.471},
        {"x1": 205.7, "x2": 205.7, "g1": 0.471, "g2": 1.463},
        {"x1": 174, "x2": 205.7, "g1": 1.463, "g2": 1.463},
        {"x1": 174, "x2": 174, "g1": 1.353, "g2": 1.601}
      ]},
      "mark": {"type": "rule", "color": "#444", "strokeWidth": 1.3},
      "encoding": {
        "x": {"field": "x1", "type": "quantitative", "scale": {"type": "linear", "domain": [0, 200], "range": [765.5, 1175.9], "nice": false, "zero": false}, "axis": null},
        "x2": {"field": "x2"},
        "y": {"field": "g1", "type": "quantitative", "scale": {"type": "linear", "domain": [0, 2], "range": [489.35, 719.95], "nice": false, "zero": false}, "axis": null},
        "y2": {"field": "g2"}
      }
    },
    {
      "data": {"values": [
        {"x": 183.4, "g": 0.471, "label": "***"},
        {"x": 167.8, "g": 1.463, "label": "***"},
        {"x": 212.5, "g": 0.962, "label": "***"}
      ]},
      "mark": {"type": "text", "font": "Liberation Sans", "fontSize": 22, "color": "#222", "baseline": "middle", "align": "center", "angle": 90, "dy": 6},
      "encoding": {
        "x": {"field": "x", "type": "quantitative", "scale": {"type": "linear", "domain": [0, 200], "range": [765.5, 1175.9], "nice": false, "zero": false}, "axis": null},
        "y": {"field": "g", "type": "quantitative", "scale": {"type": "linear", "domain": [0, 2], "range": [489.35, 719.95], "nice": false, "zero": false}, "axis": null},
        "text": {"field": "label"}
      }
    },
    {
      "data": {"values": [{"x": -33.2, "g": -0.503, "label": "C"}]},
      "mark": {"type": "text", "font": "Liberation Sans", "fontSize": 18, "fontWeight": "bold", "color": "#000", "baseline": "middle", "align": "center"},
      "encoding": {
        "x": {"field": "x", "type": "quantitative", "scale": {"type": "linear", "domain": [0, 200], "range": [765.5, 1175.9], "nice": false, "zero": false}, "axis": null},
        "y": {"field": "g", "type": "quantitative", "scale": {"type": "linear", "domain": [0, 2], "range": [489.35, 719.95], "nice": false, "zero": false}, "axis": null},
        "text": {"field": "label"}
      }
    }
  ]
}
